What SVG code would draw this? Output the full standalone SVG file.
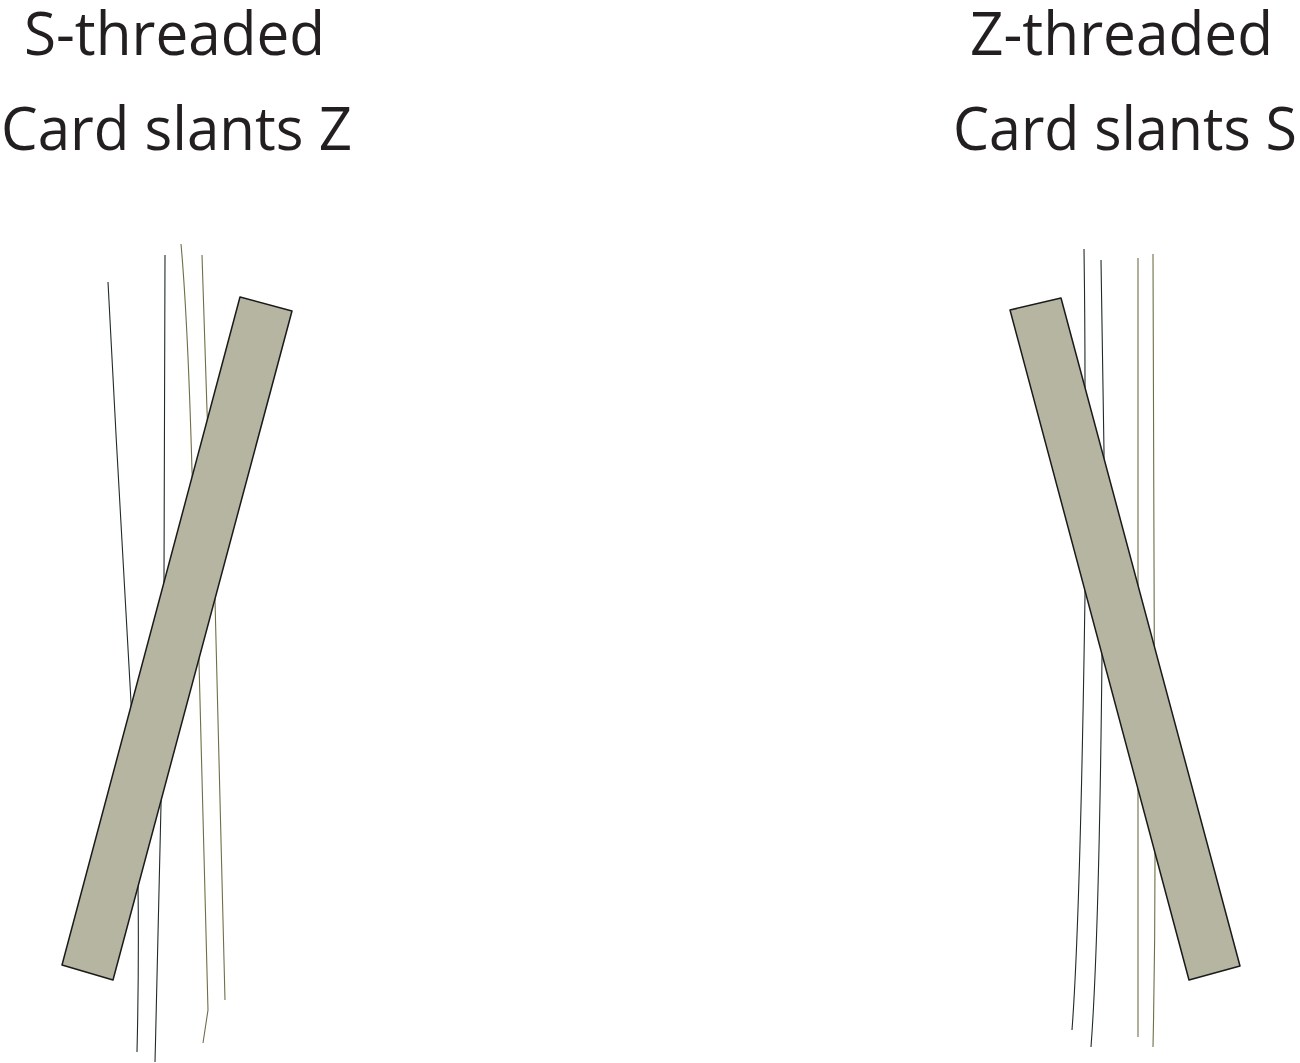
<svg xmlns="http://www.w3.org/2000/svg" width="1300" height="1063" viewBox="0 0 1300 1063">
<style>
.t{font-family:"Open Sans","Noto Sans","Liberation Sans",sans-serif;font-size:61px;fill:#231f20}
.th{fill:none;stroke-width:1.1}
.d{stroke:#1f2a2a}
.o{stroke:#6e6e48}
.card{fill:#b5b5a1;stroke:#1a1a1a;stroke-width:1.5;stroke-linejoin:round}
</style>
<rect width="1300" height="1063" fill="#fff"/>
<g id="left-labels">
<text class="t" x="24" y="55" textLength="301" lengthAdjust="spacingAndGlyphs">S-threaded</text>
<text class="t" x="1" y="150" textLength="351" lengthAdjust="spacingAndGlyphs">Card slants Z</text>
</g>
<g id="right-labels">
<text class="t" x="970" y="55" textLength="303" lengthAdjust="spacingAndGlyphs">Z-threaded</text>
<text class="t" x="953" y="150" textLength="344" lengthAdjust="spacingAndGlyphs">Card slants S</text>
</g>
<g id="left-threads">
<path class="th d" d="M108,282 C115,420 125,600 131,702 C135,780 138,840 138,883 C139,960 138,1010 137,1052"/>
<path class="th d" d="M165,255 C165,400 165,500 164,580 C163,680 161,760 161,805 C159,900 157,980 155,1062"/>
<path class="th o" d="M181,244 C186,300 190,400 192,470 C195,540 198,600 199,662 C203,800 207,930 208,1010 L203,1043"/>
<path class="th o" d="M202,255 C204,320 206,370 207,410 C210,480 213,550 215,600 C219,750 223,900 225,1000"/>
</g>
<g id="left-card">
<path class="card" d="M240,297 L292,311 L113,980 L62,965 Z"/>
</g>
<g id="right-threads">
<path class="th d" d="M1084,249 C1085,320 1085,360 1085,383 C1085,480 1085,540 1085,595 C1082,800 1078,950 1072,1030"/>
<path class="th d" d="M1101,260 C1103,350 1104,420 1104,452 C1103,550 1102,620 1102,657 C1100,850 1096,980 1091,1047"/>
<path class="th o" d="M1138,258 L1138,1037"/>
<path class="th o" d="M1153,254 C1154,500 1155,700 1155,860 C1155,950 1154,1000 1153,1047"/>
</g>
<g id="right-card">
<path class="card" d="M1010,310 L1061,298 L1240,966 L1189,980 Z"/>
</g>
</svg>
